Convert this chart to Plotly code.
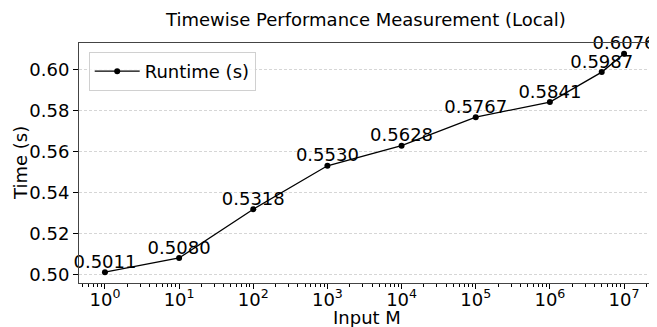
import plotly.graph_objects as go

input_m = [1, 10, 100, 1000, 10000, 100000, 1000000, 5000000, 10000000]
runtime = [0.5011, 0.5080, 0.5318, 0.5530, 0.5628, 0.5767, 0.5841, 0.5987, 0.6076]
labels = [f"{v:.4f}" for v in runtime]
tick_exps = list(range(0, 8))
y_ticks = [0.50, 0.52, 0.54, 0.56, 0.58, 0.60]

FONT = "DejaVu Sans"

fig = go.Figure()
fig.add_trace(go.Scatter(
    x=input_m, y=runtime, mode="lines+markers", name="Runtime (s)",
    line=dict(color="black", width=1.3),
    marker=dict(color="black", size=6),
))
fig.add_trace(go.Scatter(
    x=input_m, y=runtime, mode="text", text=labels, textposition="top center",
    textfont=dict(family=FONT, size=18, color="black"), showlegend=False,
    hoverinfo="skip", cliponaxis=False,
))

minor_vals = [m * 10 ** e for e in range(-1, 8) for m in range(2, 10)]

# the page body adds an 8px offset, so the figure is sized to fit the window
fig.update_layout(
    width=649, height=319,
    margin=dict(l=71, r=7, t=35, b=44),
    paper_bgcolor="white", plot_bgcolor="white",
    font=dict(family=FONT, size=18, color="black"),
    showlegend=True,
    legend=dict(x=0.017, y=0.9625, xanchor="left", yanchor="top",
                bordercolor="#d0d0d0", borderwidth=1, bgcolor="rgba(255,255,255,0.8)",
                itemwidth=45, font=dict(size=18)),
    annotations=[
        dict(text="Timewise Performance Measurement (Local)", xref="paper", yref="paper",
             x=0.5009, y=1.096, xanchor="center", yanchor="middle", showarrow=False,
             font=dict(size=18)),
        dict(text="Input M", xref="paper", yref="paper", x=0.505, y=-0.1417,
             xanchor="center", yanchor="middle", showarrow=False, font=dict(size=18)),
        dict(text="Time (s)", xref="paper", yref="paper", x=-0.1033, y=0.5,
             xanchor="center", yanchor="middle", showarrow=False, textangle=-90,
             font=dict(size=18)),
    ],
)
fig.update_xaxes(
    type="log", range=[-0.35, 7.35],
    tickmode="array", tickvals=[10 ** e for e in tick_exps],
    ticktext=[f"10<sup>{e}</sup>" for e in tick_exps],
    ticks="outside", ticklen=5, tickcolor="black", ticklabelstandoff=-5,
    showline=True, linecolor="#444", linewidth=1, mirror=True,
    showgrid=False, zeroline=False,
    minor=dict(tickmode="array", tickvals=minor_vals, ticks="outside", ticklen=3,
               tickcolor="black", showgrid=False),
)
fig.update_yaxes(
    range=[0.4958, 0.6129],
    tickmode="array", tickvals=y_ticks,
    ticktext=[f"{v:.2f}" for v in y_ticks],
    ticks="outside", ticklen=5, tickcolor="black",
    showline=True, linecolor="#444", linewidth=1, mirror=True,
    showgrid=True, gridcolor="#d6d6d6", griddash="3px,2px", gridwidth=0.6,
    zeroline=False,
)

fig.write_html("out.html")
